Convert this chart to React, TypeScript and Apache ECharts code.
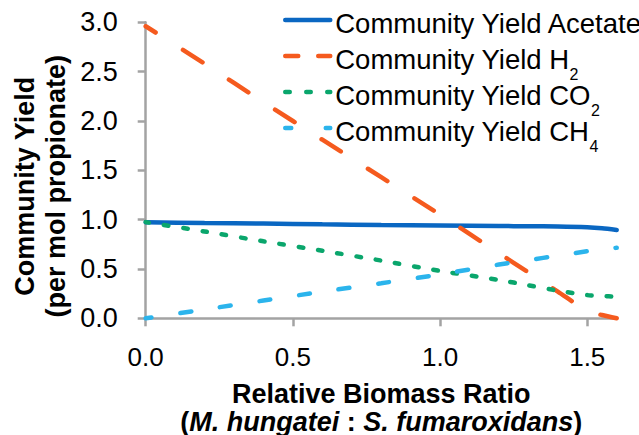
import React, { useEffect, useRef } from "react";
import * as echarts from "echarts";

const xValues = [0, 0.2, 0.4, 0.6, 0.8, 1.0, 1.2, 1.3, 1.4, 1.5, 1.55, 1.6];
const acetate = [0.973, 0.966, 0.96, 0.952, 0.945, 0.94, 0.935, 0.933, 0.93, 0.922, 0.912, 0.895];
const hydrogen = [2.96, 2.58, 2.19, 1.81, 1.43, 1.05, 0.66, 0.465, 0.27, 0.075, 0.033, 0.0];
const carbonDioxide = [0.975, 0.88, 0.78, 0.685, 0.585, 0.48, 0.388, 0.335, 0.28, 0.235, 0.225, 0.22];
const methane = [0, 0.09, 0.18, 0.27, 0.355, 0.445, 0.545, 0.59, 0.635, 0.68, 0.7, 0.715];

const seriesNames = [
  "Community Yield Acetate",
  "Community Yield H2",
  "Community Yield CO2",
  "Community Yield CH4",
];
const legendLabels = [
  "{m|Community Yield Acetate}{s| }",
  "{m|Community Yield H}{s|2}",
  "{m|Community Yield CO}{s|2}",
  "{m|Community Yield CH}{s|4}",
];
const xTicks = [0, 0.5, 1.0, 1.5];
const yTitle = "{a|Community Yield}\n{a|(per mol propionate)}";
const xTitle =
  "{b|Relative Biomass Ratio}\n{c|(}{ci|M. hungatei}{c| : }{ci|S. fumaroxidans}{c|)}";

const colors = ["#0A67C2", "#F55A1E", "#0AA66C", "#2BB4EC"];
const FONT = "Liberation Sans, Arial, Helvetica, sans-serif";

export default function App() {
  const ref = useRef<HTMLDivElement>(null);
  useEffect(() => {
    if (!ref.current) return;
    const chart = echarts.init(ref.current, null, { renderer: "svg" });
    const pair = (vals: number[]) => xValues.map((x, i) => [x, vals[i]]);
    const axisGray = "#A3A3A3";
    const seriesData = [acetate, hydrogen, carbonDioxide, methane];
    const dashTypes: any[] = ["solid", [23, 32], [4.5, 15], [11, 29]];
    const dashOffsets = [0, 10.6, 1, 5.2];
    const legendDash: any[] = ["solid", [13, 20], [4.5, 16.5], [6, 34.5]];
    const boldTitle = { fontFamily: FONT, fontSize: 27, fontWeight: "bold", color: "#000" };
    chart.setOption({
      animation: false,
      textStyle: { fontFamily: FONT },
      grid: {
        left: 145.7,
        right: 22.3,
        top: 22.3,
        bottom: 116.7,
        containLabel: false,
        outerBoundsMode: "none",
      },
      legend: {
        orient: "vertical",
        left: 283,
        top: 2,
        padding: 0,
        itemWidth: 45,
        itemHeight: 14,
        itemGap: -8,
        selectedMode: false,
        itemStyle: { opacity: 0 },
        data: seriesNames.map((n, i) => ({
          name: n,
          itemStyle: { opacity: 0 },
          lineStyle: {
            type: legendDash[i],
            dashOffset: 0,
            cap: "round",
            width: 4.5,
            color: colors[i],
          },
        })),
        formatter: (name: string) => legendLabels[seriesNames.indexOf(name)],
        textStyle: {
          fontFamily: FONT,
          color: "#000",
          fontSize: 27.5,
          lineHeight: 36,
          rich: {
            m: {
              fontFamily: FONT,
              fontSize: 27.5,
              lineHeight: 36,
              height: 29,
              verticalAlign: "bottom",
              color: "#000",
            },
            s: {
              fontFamily: FONT,
              fontSize: 16,
              lineHeight: 36,
              height: 0,
              verticalAlign: "bottom",
              color: "#000",
            },
          },
        },
      },
      xAxis: {
        type: "value",
        min: 0,
        max: 1.6,
        interval: 0.5,
        name: xTitle,
        nameLocation: "middle",
        nameGap: 60.4,
        nameTextStyle: {
          color: "#000",
          rich: {
            b: { ...boldTitle, lineHeight: 31 },
            c: { ...boldTitle, lineHeight: 25 },
            ci: { ...boldTitle, fontStyle: "italic", lineHeight: 25 },
          },
        },
        axisLine: { show: true, lineStyle: { color: axisGray, width: 2.5 } },
        axisTick: {
          show: true,
          length: 8,
          inside: false,
          customValues: xTicks,
          lineStyle: { color: axisGray, width: 2.5 },
        },
        axisLabel: {
          customValues: xTicks,
          margin: 26,
          fontSize: 26,
          color: "#000",
          fontFamily: FONT,
          formatter: (v: number) => v.toFixed(1),
        },
        splitLine: { show: false },
      },
      yAxis: {
        type: "value",
        min: 0,
        max: 3,
        interval: 0.5,
        name: yTitle,
        nameLocation: "middle",
        nameRotate: 90,
        nameGap: 73.6,
        nameTextStyle: {
          color: "#000",
          padding: [0, 32, 0, 0],
          rich: {
            a: { ...boldTitle, lineHeight: 31 },
          },
        },
        axisLine: { show: true, lineStyle: { color: axisGray, width: 2.5 } },
        axisTick: { show: true, length: 8, inside: false, lineStyle: { color: axisGray, width: 2.5 } },
        axisLabel: {
          margin: 28,
          fontSize: 27,
          color: "#000",
          fontFamily: FONT,
          formatter: (v: number) => v.toFixed(1),
        },
        splitLine: { show: false },
      },
      series: seriesNames.map((n, i) => ({
        name: n,
        type: "line",
        data: pair(seriesData[i]),
        symbol: "none",
        smooth: 0.25,
        clip: false,
        lineStyle: {
          color: colors[i],
          width: 4.5,
          type: dashTypes[i],
          dashOffset: dashOffsets[i],
          cap: "round",
        },
        itemStyle: { color: colors[i] },
      })),
    });
    return () => chart.dispose();
  }, []);
  return (
    <div
      ref={ref}
      style={{ position: "fixed", left: 0, top: 0, width: 639, height: 435, background: "#fff" }}
    />
  );
}
